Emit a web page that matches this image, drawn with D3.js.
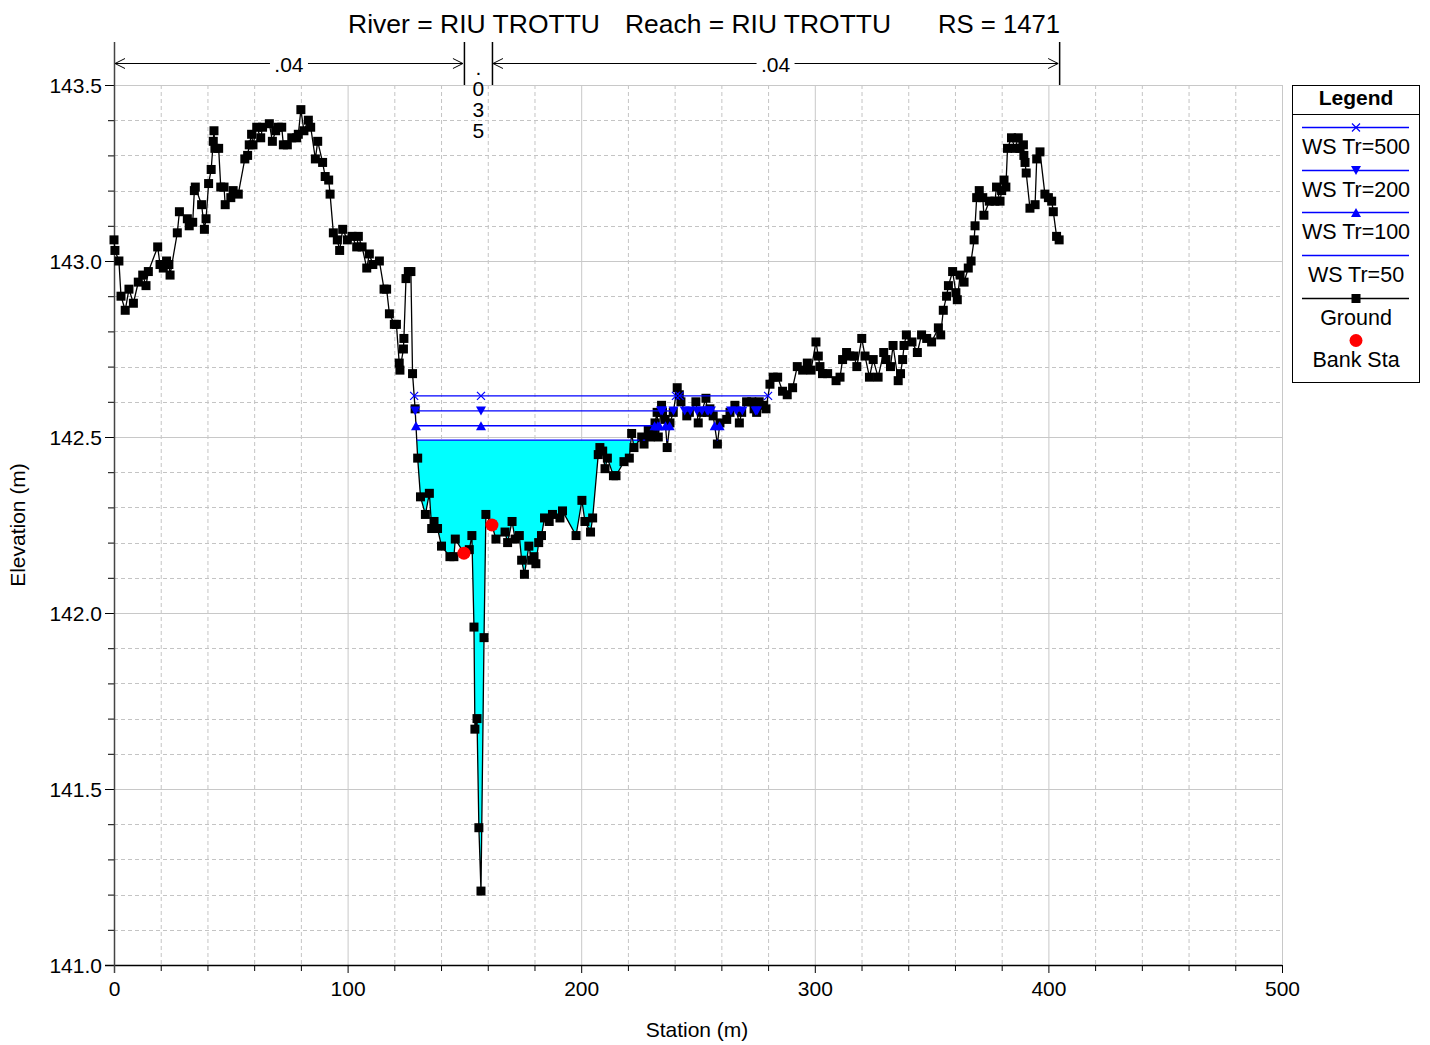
<!DOCTYPE html>
<html><head><meta charset="utf-8">
<script src="https://cdn.jsdelivr.net/npm/d3@7"></script>
<style>body{margin:0;background:#fff} svg{display:block;font-family:"Liberation Sans",Arial,sans-serif}</style>
</head><body><svg id="c" width="1430" height="1045"></svg>
<script>
// ---------- data ----------
const groundStation = [0.0,0.4,2.1,3.0,4.8,6.4,8.3,10.4,12.3,13.7,14.7,18.7,19.7,21.1,22.5,23.5,24.0,27.1,28.0,31.4,32.2,33.7,34.4,34.8,37.5,38.7,39.4,40.5,41.6,42.5,42.8,43.2,44.8,45.7,47.1,47.6,50.0,51.0,53.2,56.0,57.2,57.9,58.9,59.5,61.1,62.8,63.6,66.5,67.8,69.2,70.3,71.8,72.5,74.2,76.1,78.2,78.9,80.0,81.3,83.2,84.2,86.2,87.2,89.3,90.4,91.9,92.5,93.9,95.6,96.6,97.9,99.9,101.9,103.9,104.6,106.2,108.2,109.3,110.8,113.6,115.6,116.7,117.9,120.0,120.9,122.1,122.4,123.9,124.1,125.0,126.0,127.1,127.8,128.9,130.0,131.2,133.3,135.0,136.0,137.0,138.5,140.2,143.8,145.5,146.1,149.8,152.1,153.2,154.1,154.5,155.4,156.2,157.1,158.4,159.2,161.8,163.5,167.4,168.5,170.4,171.7,173.5,174.5,175.7,177.6,178.8,179.8,180.6,181.8,183.0,184.3,186.3,187.7,190.9,192.0,197.8,200.3,201.6,204.0,204.9,207.3,208.0,209.2,210.2,211.2,213.8,214.9,218.3,220.6,221.6,222.6,225.9,226.9,228.7,229.5,230.9,231.6,232.5,233.0,234.4,234.8,235.9,236.8,238.0,239.4,241.1,242.0,242.7,245.2,246.3,249.1,250.1,251.5,253.4,254.0,255.1,256.5,258.3,259.4,262.3,263.7,265.8,267.7,268.7,270.8,273.0,274.0,275.1,276.2,278.0,279.1,280.8,282.2,284.1,286.2,288.2,290.5,292.5,294.8,296.8,298.4,300.5,301.5,302.2,303.3,305.5,309.1,310.8,311.9,313.6,315.0,316.8,318.0,320.1,321.5,323.4,325.0,327.1,329.5,330.5,332.4,333.5,335.7,336.7,337.6,338.2,339.2,341.6,343.9,345.7,347.9,350.0,352.9,353.9,355.0,356.4,357.2,359.0,360.4,361.0,362.2,363.9,365.7,366.9,368.2,368.6,369.3,370.4,371.9,372.4,374.7,377.1,377.8,379.3,380.0,381.0,381.8,382.5,384.2,385.7,387.1,387.8,389.3,389.5,390.0,390.5,392.1,394.3,395.0,396.4,398.5,400.0,401.4,402.1,403.5,404.6];
const groundElevation = [143.06,143.03,143.00,142.90,142.86,142.92,142.88,142.94,142.96,142.93,142.97,143.04,142.99,142.98,143.00,142.99,142.96,143.08,143.14,143.12,143.10,143.11,143.20,143.21,143.16,143.09,143.12,143.22,143.26,143.34,143.37,143.32,143.32,143.21,143.21,143.16,143.18,143.20,143.19,143.29,143.30,143.33,143.36,143.33,143.38,143.35,143.38,143.39,143.34,143.37,143.38,143.38,143.33,143.33,143.35,143.35,143.36,143.43,143.37,143.40,143.38,143.29,143.34,143.28,143.24,143.23,143.19,143.08,143.06,143.03,143.09,143.06,143.07,143.04,143.07,143.04,142.98,143.02,142.99,143.00,142.92,142.92,142.85,142.82,142.82,142.71,142.69,142.75,142.78,142.95,142.97,142.97,142.68,142.58,142.44,142.33,142.28,142.34,142.24,142.26,142.24,142.19,142.16,142.16,142.21,142.17,142.18,142.22,141.96,141.67,141.70,141.39,141.21,141.93,142.28,142.25,142.21,142.23,142.20,142.26,142.21,142.22,142.15,142.11,142.19,142.15,142.16,142.14,142.20,142.22,142.27,142.26,142.28,142.27,142.29,142.22,142.32,142.26,142.23,142.27,142.45,142.47,142.46,142.41,142.44,142.39,142.39,142.43,142.44,142.51,142.47,142.50,142.48,142.52,142.50,142.51,142.54,142.57,142.50,142.59,142.57,142.55,142.47,142.54,142.57,142.64,142.62,142.60,142.56,142.57,142.60,142.54,142.57,142.61,142.57,142.58,142.56,142.48,142.54,142.55,142.57,142.59,142.54,142.57,142.60,142.60,142.58,142.57,142.60,142.59,142.58,142.65,142.67,142.67,142.63,142.62,142.64,142.70,142.69,142.71,142.69,142.77,142.73,142.70,142.68,142.68,142.66,142.67,142.72,142.74,142.73,142.73,142.70,142.78,142.73,142.67,142.72,142.67,142.74,142.72,142.70,142.76,142.66,142.68,142.72,142.76,142.79,142.77,142.74,142.79,142.78,142.77,142.81,142.79,142.86,142.90,142.93,142.97,142.91,142.89,142.96,142.94,142.98,143.00,143.06,143.10,143.18,143.20,143.18,143.13,143.17,143.17,143.21,143.17,143.20,143.23,143.21,143.32,143.35,143.32,143.35,143.32,143.33,143.30,143.28,143.25,143.15,143.16,143.29,143.31,143.19,143.18,143.17,143.14,143.07,143.06];
const bankStations = [149.8, 161.8];
const bankElevations = [142.17, 142.25];
const wsNames = ["WS Tr=500", "WS Tr=200", "WS Tr=100", "WS Tr=50"];
const wsElevations = [142.617, 142.574, 142.532, 142.491];
const wsMarkerTypes = ["x", "down", "up", "none"];
const nValueLabels = [".04", ".035", ".04"];
const nValueStations = [0, 149.8, 161.8, 404.6];
const xTickValues = [0, 100, 200, 300, 400, 500];
const yTickValues = [141.0, 141.5, 142.0, 142.5, 143.0, 143.5];
const titleParts = ["River = RIU TROTTU", "Reach = RIU TROTTU", "RS = 1471"];

// ---------- setup ----------
const svg = d3.select("#c");
const L = 114, R = 1282, T = 85, B = 965;
const x = d3.scaleLinear().domain([0, 500]).range([L, R]);
const y = d3.scaleLinear().domain([141, 143.5]).range([B, T]);
const ground = groundStation.map((s, i) => [s, groundElevation[i]]);
const BLUE = "#0000ff";

// grid
const g = svg.append("g");
const xMinor = d3.range(0, 501, 20).filter(v => v % 100 !== 0);
const yMinor = d3.range(1410, 1436, 1).map(v => v / 10).filter(v => Math.abs(v * 2 - Math.round(v * 2)) > 1e-6);
g.selectAll(".xm").data(xMinor).join("line").attr("x1", d => x(d) + .5).attr("x2", d => x(d) + .5).attr("y1", T).attr("y2", B)
  .attr("stroke", "#c4c4c4").attr("stroke-dasharray", "4,3");
g.selectAll(".ym").data(yMinor).join("line").attr("y1", d => Math.round(y(d)) + .5).attr("y2", d => Math.round(y(d)) + .5).attr("x1", L).attr("x2", R)
  .attr("stroke", "#c4c4c4").attr("stroke-dasharray", "4,3");
g.selectAll(".xM").data(xTickValues).join("line").attr("x1", d => x(d) + .5).attr("x2", d => x(d) + .5).attr("y1", T).attr("y2", B)
  .attr("stroke", "#c8c8c8");
g.selectAll(".yM").data(yTickValues).join("line").attr("y1", d => Math.round(y(d)) + .5).attr("y2", d => Math.round(y(d)) + .5).attr("x1", L).attr("x2", R)
  .attr("stroke", "#c8c8c8");

// axes
const ax = svg.append("g").attr("transform", `translate(0,${B})`)
  .call(d3.axisBottom(x).tickValues(xTickValues).tickSize(8).tickFormat(d3.format("d")));
const axm = svg.append("g").attr("transform", `translate(0,${B})`)
  .call(d3.axisBottom(x).tickValues(xMinor).tickSize(6).tickFormat(""));
const ay = svg.append("g").attr("transform", `translate(${L},0)`)
  .call(d3.axisLeft(y).tickValues(yTickValues).tickSize(9).tickFormat(d3.format(".1f")));
const aym = svg.append("g").attr("transform", `translate(${L},0)`)
  .call(d3.axisLeft(y).tickValues(yMinor).tickSize(6).tickFormat(""));
[ax, axm, ay, aym].forEach(a => {
  a.select(".domain").remove();
  a.selectAll("line").attr("stroke", "#000");
  a.selectAll("text").attr("font-size", 21).attr("fill", "#000").attr("font-family", "Liberation Sans, Arial, sans-serif");
});
ax.selectAll("text").attr("dy", null).attr("y", 31);
ay.selectAll("text").attr("x", -12).attr("dy", "0.36em");
svg.append("line").attr("x1", L - 9).attr("x2", R).attr("y1", B + .5).attr("y2", B + .5).attr("stroke", "#000").attr("stroke-width", 1.5);
svg.append("line").attr("x1", L + .5).attr("x2", L + .5).attr("y1", 42).attr("y2", B + 8).attr("stroke", "#444").attr("stroke-width", 1.5);

// titles
svg.append("text").attr("x", 697).attr("y", 1037).attr("text-anchor", "middle").attr("font-size", 21).text("Station (m)");
svg.append("text").attr("transform", "translate(25,525) rotate(-90)").attr("text-anchor", "middle").attr("font-size", 21).text("Elevation (m)");
const titleX = [348, 625, 938];
const titleW = [252, 266, 122];
titleParts.forEach((t, i) => svg.append("text").attr("x", titleX[i]).attr("y", 33).attr("font-size", 25.5)
  .attr("textLength", titleW[i]).attr("lengthAdjust", "spacingAndGlyphs").text(t));

// n-values row
const ny = 63.5;
nValueStations.forEach(s => {
  if (s === 0) return;
  svg.append("line").attr("x1", x(s) + .5).attr("x2", x(s) + .5).attr("y1", 42).attr("y2", T).attr("stroke", "#000").attr("stroke-width", 1.5);
});
function arrowSpan(s0, s1, label) {
  const a = x(s0) + 1, b = x(s1) - 1;
  svg.append("line").attr("x1", a).attr("x2", b).attr("y1", ny).attr("y2", ny).attr("stroke", "#000");
  svg.append("path").attr("d", `M${a + 10},${ny - 5}L${a},${ny}L${a + 10},${ny + 5}`).attr("fill", "none").attr("stroke", "#000");
  svg.append("path").attr("d", `M${b - 10},${ny - 5}L${b},${ny}L${b - 10},${ny + 5}`).attr("fill", "none").attr("stroke", "#000");
  const cx = (a + b) / 2;
  svg.append("rect").attr("x", cx - 19).attr("y", ny - 10).attr("width", 38).attr("height", 20).attr("fill", "#fff");
  svg.append("text").attr("x", cx).attr("y", ny + 8).attr("text-anchor", "middle").attr("font-size", 21).text(label);
}
arrowSpan(nValueStations[0], nValueStations[1], nValueLabels[0]);
arrowSpan(nValueStations[2], nValueStations[3], nValueLabels[2]);
{
  const cx = (x(nValueStations[1]) + x(nValueStations[2])) / 2 + 0.5;
  nValueLabels[1].split("").forEach((ch, i) => {
    svg.append("text").attr("x", cx).attr("y", 75 + i * 21).attr("text-anchor", "middle").attr("font-size", 21).text(ch);
  });
}

// wet segments
function wetSegments(level) {
  const segs = []; let cur = null;
  for (let i = 0; i < ground.length; i++) {
    const [s, e] = ground[i];
    if (e < level) {
      if (!cur) {
        if (i > 0) {
          const [ps, pe] = ground[i - 1];
          const t = (level - pe) / (e - pe);
          cur = [[ps + t * (s - ps), level]];
        } else cur = [[s, level]];
      }
      cur.push([s, e]);
    } else if (cur) {
      const [ps, pe] = ground[i - 1];
      const t = (level - pe) / (e - pe);
      cur.push([ps + t * (s - ps), level]);
      segs.push(cur); cur = null;
    }
  }
  if (cur) { cur.push([ground[ground.length - 1][0], level]); segs.push(cur); }
  return segs;
}

// cyan fill for lowest WS
const lowest = wsElevations[3];
const fillSegs = wetSegments(lowest);
const area = d3.area().x(d => x(d[0])).y0(d => y(d[1])).y1(y(lowest));
svg.append("g").selectAll("path").data(fillSegs).join("path").attr("d", area).attr("fill", "#00ffff");

// ground line
const line = d3.line().x(d => x(d[0])).y(d => y(d[1]));
svg.append("path").attr("d", line(ground)).attr("fill", "none").attr("stroke", "#000").attr("stroke-width", 1.3);
svg.append("g").selectAll("rect").data(ground).join("rect")
  .attr("x", d => x(d[0]) - 4.5).attr("y", d => y(d[1]) - 4.5).attr("width", 9).attr("height", 9).attr("fill", "#000");

// markers
function drawMarker(sel, type, cx, cy) {
  if (type === "x") {
    sel.append("path").attr("d", `M${cx - 4},${cy - 4}L${cx + 4},${cy + 4}M${cx - 4},${cy + 4}L${cx + 4},${cy - 4}`).attr("stroke", BLUE).attr("stroke-width", 1.2);
  } else if (type === "down") {
    sel.append("path").attr("d", `M${cx - 5},${cy - 4.5}L${cx + 5},${cy - 4.5}L${cx},${cy + 4.5}Z`).attr("fill", BLUE);
  } else if (type === "up") {
    sel.append("path").attr("d", `M${cx - 5},${cy + 4.5}L${cx + 5},${cy + 4.5}L${cx},${cy - 4.5}Z`).attr("fill", BLUE);
  }
}
const thalweg = ground[d3.minIndex(groundElevation)][0];
const wsG = svg.append("g");
wsElevations.forEach((lev, k) => {
  const segs = wetSegments(lev);
  segs.forEach(sg => {
    const a = sg[0][0], b = sg[sg.length - 1][0];
    wsG.append("line").attr("x1", x(a)).attr("x2", x(b)).attr("y1", y(lev)).attr("y2", y(lev)).attr("stroke", BLUE).attr("stroke-width", 1.3);
  });
  if (wsMarkerTypes[k] !== "none") {
    const ms = [];
    segs.forEach(sg => { ms.push(sg[0][0]); ms.push(sg[sg.length - 1][0]); });
    ms.push(thalweg);
    ms.forEach(s => drawMarker(wsG, wsMarkerTypes[k], x(s), y(lev)));
  }
});

// bank stations
svg.append("g").selectAll("circle").data(bankStations.map((s, i) => [s, bankElevations[i]])).join("circle")
  .attr("cx", d => x(d[0])).attr("cy", d => y(d[1])).attr("r", 6.5).attr("fill", "#ff0000");

// legend
const lg = svg.append("g");
lg.append("rect").attr("x", 1292.5).attr("y", 85.5).attr("width", 127).attr("height", 297).attr("fill", "#fff").attr("stroke", "#000");
lg.append("text").attr("x", 1356).attr("y", 105).attr("text-anchor", "middle").attr("font-size", 21).attr("font-weight", "bold").text("Legend");
lg.append("line").attr("x1", 1292).attr("x2", 1420).attr("y1", 114.5).attr("y2", 114.5).attr("stroke", "#000");
const legY = [127.5, 170.5, 212.5, 255.5, 298.5, 340.5];
wsNames.forEach((n, k) => {
  lg.append("line").attr("x1", 1302).attr("x2", 1409).attr("y1", legY[k]).attr("y2", legY[k]).attr("stroke", BLUE).attr("stroke-width", 1.3);
  drawMarker(lg, wsMarkerTypes[k], 1356, legY[k]);
  lg.append("text").attr("x", 1356).attr("y", legY[k] + 26).attr("text-anchor", "middle").attr("font-size", 21.5).text(n);
});
lg.append("line").attr("x1", 1302).attr("x2", 1409).attr("y1", legY[4]).attr("y2", legY[4]).attr("stroke", "#000").attr("stroke-width", 1.3);
lg.append("rect").attr("x", 1351.5).attr("y", legY[4] - 4.5).attr("width", 9).attr("height", 9).attr("fill", "#000");
lg.append("text").attr("x", 1356).attr("y", legY[4] + 26).attr("text-anchor", "middle").attr("font-size", 21.5).text("Ground");
lg.append("circle").attr("cx", 1356).attr("cy", legY[5]).attr("r", 6.5).attr("fill", "#ff0000");
lg.append("text").attr("x", 1356).attr("y", legY[5] + 26).attr("text-anchor", "middle").attr("font-size", 21.5).text("Bank Sta");
</script></body></html>
